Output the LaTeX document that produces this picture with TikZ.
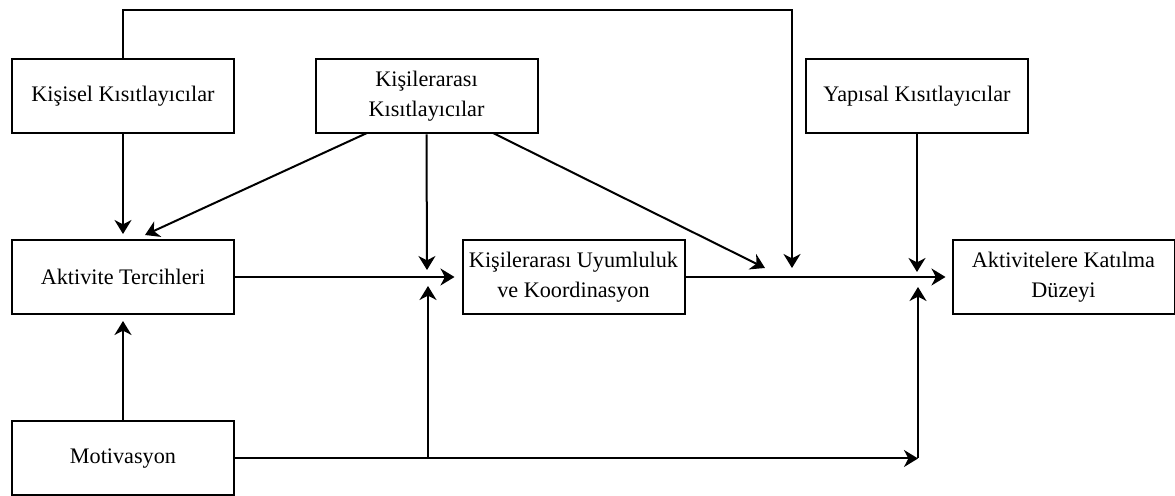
\documentclass[tikz,border=0pt]{standalone}
\usepackage{fontspec}
\setmainfont{Liberation Serif}
\usetikzlibrary{arrows.meta}

\begin{document}
\begin{tikzpicture}[x=0.5pt,y=-0.5pt,
	box/.style={draw,line width=1pt,minimum width=111pt,minimum height=37pt,inner sep=0pt,align=center,font=\fontsize{11.1pt}{15pt}\selectfont},
	wire/.style={line width=1pt},
	link/.style={wire,-{Stealth[length=7pt,width=8.5pt,inset=2.2pt]}}]
	\useasboundingbox (0,0) rectangle (1175,496);

	\node[box] at (123,96.5) (kisisel) {Kişisel Kısıtlayıcılar};
	\node[box] at (426.5,96.5) (kisiler) {Kişilerarası\\Kısıtlayıcılar};
	\node[box] at (917,96.5) (yapisal) {Yapısal Kısıtlayıcılar};
	\node[box] at (123,277) (tercih) {Aktivite Tercihleri};
	\node[box] at (573.5,277) (uyum) {Kişilerarası Uyumluluk\\ve Koordinasyon};
	\node[box] at (1063.5,277) (katilim) {Aktivitelere Katılma\\Düzeyi};
	\node[box] at (123,458.5) (motiv) {Motivasyon};

	\coordinate (kl) at (367,133);
	\coordinate (kr) at (493,133);
	\coordinate (tl) at (145,235);
	\coordinate (ku) at (427,270);
	\coordinate (ut) at (428,286);
	\coordinate (mb) at (428,458.5);
	\coordinate (mc) at (918,458.5);
	\coordinate (kt) at (918,287);
	\coordinate (dg) at (765,268);
	\coordinate (tr) at (792,10);
	\coordinate (tt) at (792,268);
	\coordinate (yt) at (917,272);

	\draw[link,shorten >=2.5pt]	(kisisel) -- (tercih);
	\draw[link]	(kl) -- (tl);
	\draw[link]	(kisiler.south) -- (ku);
	\draw[link,shorten >=3.5pt]	(tercih) -- (uyum);
	\draw[link]	(motiv.east) -- (mc);
	\draw[link]	(mb) -- (ut);
	\draw[link]	(mc) -- (kt);
	\draw[link,shorten >=3pt]	(uyum) -- (katilim);
	\draw[link]	(kr) -- (dg);
	\draw[link]	(kisisel.north) |- (tr) -- (tt);
	\draw[link]	(yapisal.south) -- (yt);
	\draw[link,shorten >=3pt]	(motiv) -- (tercih);
\end{tikzpicture}
\end{document}
